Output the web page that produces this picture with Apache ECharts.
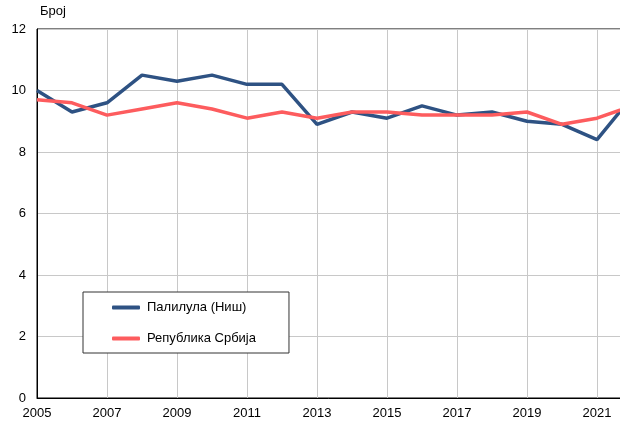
<!DOCTYPE html>
<html>
<head>
<meta charset="utf-8">
<style>
  html, body { margin: 0; padding: 0; background: #fff; }
  #chart { width: 620px; height: 421px; }
</style>
<script src="https://cdn.jsdelivr.net/npm/echarts@6/dist/echarts.min.js"></script>
</head>
<body>
<div id="chart"></div>
<script>
// Years on the horizontal axis
const years = ['2005','2006','2007','2008','2009','2010','2011','2012','2013',
               '2014','2015','2016','2017','2018','2019','2020','2021','2022'];

// Палилула (Ниш)
const palilula = [10.0, 9.3, 9.6, 10.5, 10.3, 10.5, 10.2, 10.2, 8.9,
                  9.3, 9.1, 9.5, 9.2, 9.3, 9.0, 8.9, 8.4, 9.8];

// Република Србија
const srbija = [9.7, 9.6, 9.2, 9.4, 9.6, 9.4, 9.1, 9.3, 9.1,
                9.3, 9.3, 9.2, 9.2, 9.2, 9.3, 8.9, 9.1, 9.5];

const seriesNames = ['Палилула (Ниш)', 'Република Србија'];
const yAxisName = 'Број';

const font = 'Liberation Sans, Arial, sans-serif';
const chart = echarts.init(document.getElementById('chart'), null, { renderer: 'canvas' });

chart.setOption({
  animation: false,
  backgroundColor: '#ffffff',
  textStyle: { fontFamily: font },
  grid: {
    left: 37, top: 29, width: 595, height: 369,
    outerBoundsMode: 'none',
    show: true, borderColor: '#000', borderWidth: 1, containLabel: false
  },
  legend: {
    left: 83, top: 292,
    orient: 'vertical',
    data: seriesNames,
    backgroundColor: '#fff',
    borderColor: '#333',
    borderWidth: 1,
    padding: [9, 33, 8, 29],
    itemGap: 18,
    itemWidth: 28,
    itemHeight: 4,
    icon: 'roundRect',
    textStyle: { fontFamily: font, fontSize: 13, color: '#000', padding: [0, 0, 0, 2] }
  },
  xAxis: {
    type: 'category',
    data: years,
    boundaryGap: false,
    axisLine: { show: true, lineStyle: { color: '#000', width: 1 } },
    axisTick: { show: false },
    axisLabel: { interval: 1, color: '#000', fontSize: 13, fontFamily: font, margin: 9 },
    splitLine: { show: true, interval: 1, lineStyle: { color: '#c8c8c8', width: 1 } }
  },
  yAxis: {
    type: 'value',
    min: 0, max: 12, interval: 2,
    name: yAxisName,
    nameLocation: 'end',
    nameGap: 11,
    nameTextStyle: { align: 'left', color: '#000', fontSize: 13, fontFamily: font, padding: [0, 0, 0, 3] },
    axisLine: { show: true, lineStyle: { color: '#000', width: 1 } },
    axisTick: { show: false },
    axisLabel: { color: '#000', fontSize: 13, fontFamily: font, margin: 11 },
    splitLine: { show: true, lineStyle: { color: '#c8c8c8', width: 1 } }
  },
  series: [
    {
      name: seriesNames[0],
      type: 'line',
      data: palilula,
      symbol: 'none',
      z: 3,
      color: '#2e5283',
      lineStyle: { width: 3.5, color: '#2e5283' }
    },
    {
      name: seriesNames[1],
      type: 'line',
      data: srbija,
      symbol: 'none',
      z: 4,
      color: '#fd5c5e',
      lineStyle: { width: 3.5, color: '#fd5c5e' }
    }
  ]
});
</script>
</body>
</html>
